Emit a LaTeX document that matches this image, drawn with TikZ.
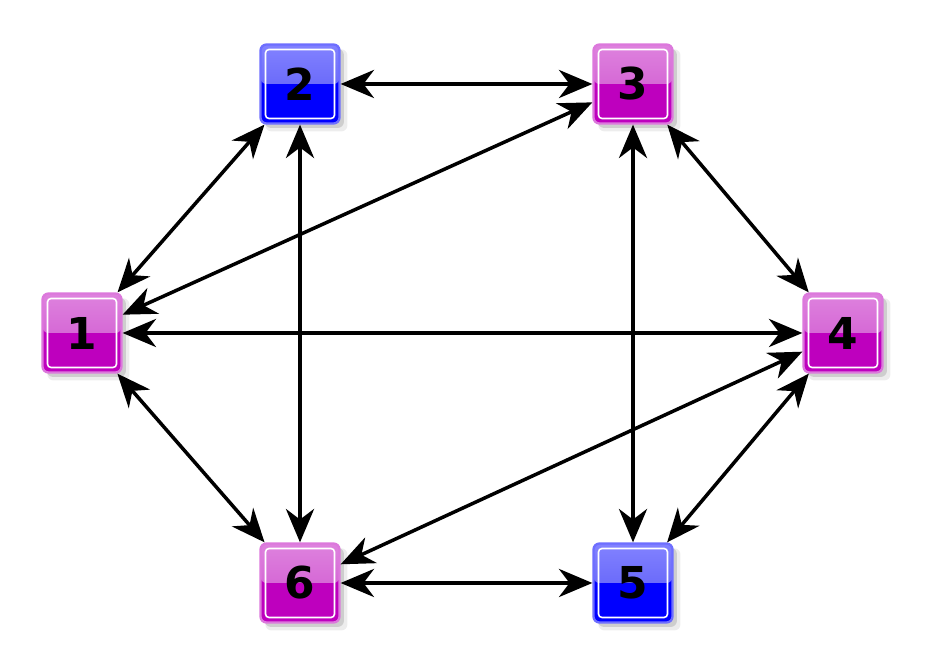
\documentclass[tikz,border=0pt]{standalone}
\usepackage{fontspec}
\setmainfont{DejaVu Sans}
\usetikzlibrary{arrows.meta,shadows}

\definecolor{magbase}{RGB}{190,0,190}
\definecolor{magtop}{RGB}{222,130,222}
\definecolor{magmid}{RGB}{205,80,205}
\definecolor{magrim}{RGB}{220,120,220}
\definecolor{bluebase}{RGB}{0,0,255}
\definecolor{bluetop}{RGB}{130,130,255}
\definecolor{bluemid}{RGB}{85,85,245}
\definecolor{bluerim}{RGB}{110,110,255}

\begin{document}
\begin{tikzpicture}[
  every node/.style={
    font=\fontsize{25}{27}\selectfont\bfseries,
    text=black
  },
  station/.style n args={4}{
    draw=#4,
    line width=1.3pt,
    rectangle,
    rounded corners=0.12cm,
    fill=#1,
    minimum width=1.58cm,
    minimum height=1.58cm,
    general shadow={shadow xshift=3.5pt, shadow yshift=-3.5pt,
      shadow scale=1.04, opacity=0.07, fill=black},
    drop shadow={shadow xshift=2.5pt, shadow yshift=-2.5pt,
      opacity=0.13, fill=black},
    path picture={
      \fill[top color=#2, bottom color=#3]
        (path picture bounding box.north west) rectangle
        (path picture bounding box.east);
      \draw[white, line width=0.9pt, rounded corners=0.07cm]
        ([shift={(0.1,-0.1)}]path picture bounding box.north west) rectangle
        ([shift={(-0.1,0.1)}]path picture bounding box.south east);
    }
  },
  magbox/.style={station={magbase}{magtop}{magmid}{magrim}},
  bluebox/.style={station={bluebase}{bluetop}{bluemid}{bluerim}},
  arrow/.style={
    {Stealth[length=19pt,width=16pt,inset=6pt]}-{Stealth[length=19pt,width=16pt,inset=6pt]},
    draw=black,
    line width=2pt
  }
]
  \useasboundingbox (0,0) rectangle (18.56,13.34);

  \node[magbox]  (n1) at (1.64,6.68)  {1};
  \node[bluebox] (n2) at (6.00,11.66) {2};
  \node[magbox]  (n3) at (12.66,11.66) {3};
  \node[magbox]  (n4) at (16.86,6.68) {4};
  \node[bluebox] (n5) at (12.66,1.68) {5};
  \node[magbox]  (n6) at (6.00,1.68)  {6};

  \draw[arrow] (n1) -- (n2);
  \draw[arrow] (n2) -- (n3);
  \draw[arrow] (n3) -- (n4);
  \draw[arrow] (n4) -- (n5);
  \draw[arrow] (n5) -- (n6);
  \draw[arrow] (n6) -- (n1);
  \draw[arrow] (n1) -- (n4);
  \draw[arrow] (n2) -- (n6);
  \draw[arrow] (n3) -- (n5);
  \draw[arrow] (n1) -- (n3);
  \draw[arrow] (n4) -- (n6);
\end{tikzpicture}
\end{document}
